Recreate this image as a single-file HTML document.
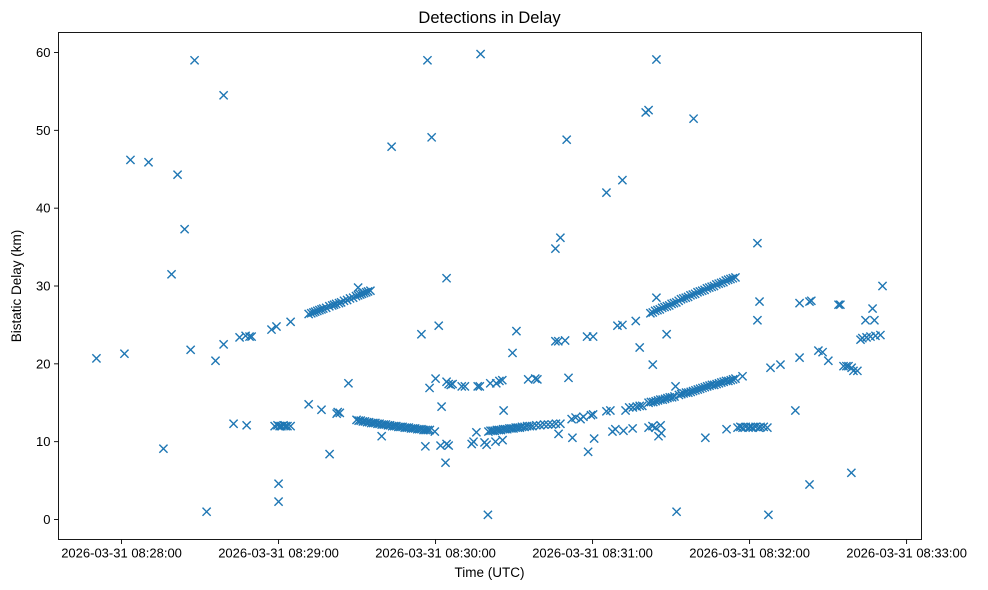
<!DOCTYPE html>
<html><head><meta charset="utf-8"><title>Detections in Delay</title>
<style>
html,body{margin:0;padding:0;background:#fff;}
svg{display:block;font-family:"Liberation Sans","DejaVu Sans",sans-serif;}
</style></head>
<body>
<svg id="chart" width="988" height="590" viewBox="0 0 988 590" xmlns="http://www.w3.org/2000/svg">
<rect x="0" y="0" width="988" height="590" fill="#fff"/>
<text x="489.5" y="23" text-anchor="middle" font-size="16.5" fill="#000">Detections in Delay</text>
<g id="axes"></g>
<g id="marks"></g>
<rect x="58.5" y="32.5" width="863" height="507" fill="none" stroke="#000" stroke-width="0.9"/>
<text x="489.5" y="577" text-anchor="middle" font-size="13.5" fill="#000">Time (UTC)</text>
<text transform="translate(21,286) rotate(-90)" text-anchor="middle" font-size="13.5" fill="#000">Bistatic Delay (km)</text>
</svg>
<script>
// time in seconds after 2026-03-31 08:28:00 UTC, delay in km
const xTickSeconds = [0, 60, 120, 180, 240, 300];
const xTickLabels = ["2026-03-31 08:28:00","2026-03-31 08:29:00","2026-03-31 08:30:00","2026-03-31 08:31:00","2026-03-31 08:32:00","2026-03-31 08:33:00"];
const yTickValues = [0, 10, 20, 30, 40, 50, 60];
const yTickLabels = ["0","10","20","30","40","50","60"];

const scatteredDetections = [
[-9.6,20.7],[1.1,21.3],[3.4,46.2],[10.3,45.9],[16.0,9.1],[19.1,31.5],[21.4,44.3],[24.1,37.3],[26.4,21.8],[27.9,59.0],
[32.5,1.0],[35.9,20.4],[39.0,54.5],[39.0,22.5],[42.8,12.3],[45.1,23.4],[47.8,12.1],[47.4,23.6],[48.9,23.5],[49.7,23.5],
[57.3,24.4],[59.2,24.8],[58.5,12.0],[59.6,12.1],[60.4,12.0],[61.1,12.0],[61.9,12.1],[62.7,12.0],[63.4,12.0],[64.6,12.0],
[60.0,4.6],[60.0,2.3],[64.6,25.4],[71.5,14.8],[76.4,14.1],[79.5,8.4],[82.2,13.6],[82.6,13.8],[83.4,13.7],[86.7,17.5],
[90.4,29.8],[99.4,10.7],[103.2,47.9],[114.6,23.8],[116.1,9.4],[116.9,59.0],[117.7,16.9],[118.5,49.1],[119.7,11.3],[120.0,18.1],
[121.2,24.9],[122.3,14.5],[121.9,9.5],[124.2,17.7],[125.0,17.4],[125.8,17.3],[126.5,17.4],[123.8,7.3],[124.2,31.0],[124.2,9.7],
[125.0,9.5],[130.0,17.1],[131.2,17.1],[136.1,17.1],[136.9,17.1],[133.8,9.7],[134.5,10.0],[137.2,59.8],[138.7,9.9],[139.5,9.6],
[140.0,0.6],[140.9,17.5],[143.2,17.5],[144.4,17.8],[145.5,17.9],[135.6,11.2],[146.0,14.0],[149.4,21.4],[150.9,24.2],[142.9,10.0],
[145.6,10.2],[155.4,18.0],[158.1,18.1],[158.9,18.0],[165.8,22.9],[166.9,22.9],[169.5,23.0],[165.8,34.8],[167.7,36.2],[170.1,48.8],
[170.8,18.2],[167.0,11.0],[172.3,10.5],[172.0,12.9],[173.5,13.1],[175.4,12.9],[176.5,13.2],[178.3,8.7],[177.9,23.5],[180.2,23.5],
[179.4,13.4],[180.2,13.5],[180.6,10.4],[185.3,42.0],[185.3,13.9],[186.8,14.0],[187.6,11.3],[188.7,11.6],[189.5,24.9],[191.4,25.0],
[191.4,43.6],[191.8,11.4],[192.6,14.0],[194.0,14.4],[195.4,14.4],[196.9,14.5],[198.0,14.6],[199.0,14.6],[195.3,11.7],[196.5,25.5],
[198.0,22.1],[200.3,52.3],[201.4,52.6],[201.4,11.8],[202.9,12.0],[204.0,11.8],[206.0,12.1],[203.0,19.9],[204.4,59.1],[204.4,28.5],
[205.2,10.7],[206.3,11.1],[208.3,23.8],[211.7,17.1],[212.1,1.0],[218.6,51.5],[223.1,10.5],[231.2,11.6],
[235.4,11.8],[236.5,11.9],[237.3,11.8],[238.5,11.9],[239.6,11.8],[240.4,11.9],[241.2,11.8],[242.3,11.9],[243.5,11.8],[244.2,11.9],[245.4,11.9],[246.8,11.8],
[237.3,18.4],[243.0,35.5],[243.0,25.6],[243.8,28.0],[247.2,0.6],[248.0,19.5],[251.8,19.9],[257.5,14.0],[259.1,20.8],[259.1,27.8],
[262.9,28.0],[263.6,28.1],[262.9,4.5],[266.3,21.7],[267.9,21.5],[270.1,20.4],[274.0,27.6],[274.7,27.6],[275.9,19.7],[277.0,19.7],
[277.8,19.7],[279.0,19.5],[279.7,19.1],[281.2,19.1],[278.9,6.0],[282.4,23.1],[283.1,23.3],[284.7,23.4],[286.2,23.5],[288.1,23.6],
[290.0,23.7],[284.3,25.6],[287.7,25.6],[287.0,27.1],[290.8,30.0]
];

const upperTrackA = [
[71.5,26.4],[72.5,26.5],[73.3,26.6],[74.0,26.7],[74.8,26.8],[75.6,26.9],[76.4,27.0],[77.1,27.1],[78.2,27.2],[79.4,27.4],
[80.5,27.5],[81.2,27.6],[82.0,27.7],[83.1,27.8],[83.9,27.9],[85.0,28.1],[86.2,28.2],[87.3,28.4],[88.5,28.5],[89.6,28.7],
[90.4,28.8],[91.2,28.9],[91.9,29.0],[92.7,29.1],[93.5,29.2],[94.2,29.3],[95.1,29.4]
];

const lowerTrackA = [
[89.8,12.8],[90.6,12.7],[91.4,12.7],[92.2,12.6],[93.0,12.6],[93.8,12.5],[94.6,12.5],[95.4,12.4],[96.2,12.4],[97.0,12.4],
[97.8,12.3],[98.6,12.3],[99.4,12.2],[100.2,12.2],[101.0,12.2],[101.8,12.1],[102.6,12.1],[103.4,12.0],[104.2,12.0],[105.0,12.0],
[105.8,11.9],[106.6,11.9],[107.4,11.9],[108.2,11.8],[109.0,11.8],[109.8,11.8],[110.6,11.7],[111.4,11.7],[112.2,11.7],[113.0,11.6],
[113.8,11.6],[114.6,11.6],[115.4,11.5],[116.2,11.5],[117.0,11.5],[117.8,11.5]
];

const lowerTrackB = [
[140.2,11.3],[141.0,11.4],[141.8,11.4],[142.6,11.4],[143.4,11.5],[144.2,11.5],[145.0,11.5],[145.8,11.6],[146.6,11.6],[147.4,11.6],
[148.2,11.7],[149.0,11.7],[149.8,11.7],[150.6,11.8],[151.4,11.8],[152.2,11.8],[153.0,11.9],[154.0,11.9],[155.0,12.0],[156.0,12.0],
[157.0,12.0],[158.5,12.1],[160.0,12.1],[161.5,12.2],[163.0,12.2],[164.5,12.2],[166.0,12.3],[167.7,12.3]
];

const middleTrackB = [
[201.4,15.0],[202.3,15.1],[203.2,15.1],[204.1,15.2],[205.0,15.3],[205.9,15.4],[206.8,15.4],[207.7,15.5],[208.6,15.6],[209.5,15.7],
[210.4,15.7],[211.3,15.8],[213.0,16.0],[213.9,16.1],[214.8,16.2],[215.7,16.3],[216.6,16.3],[217.5,16.4],[218.4,16.5],[219.3,16.6],
[220.2,16.7],[221.1,16.8],[222.0,16.9],[222.9,17.0],[223.8,17.1],[224.7,17.2],[225.6,17.3],[226.5,17.3],[227.4,17.4],[228.3,17.5],
[229.2,17.6],[230.1,17.7],[231.0,17.8],[231.9,17.8],[232.8,17.9],[233.7,18.0],[234.6,18.1]
];

const upperTrackB = [
[202.1,26.5],[203.0,26.6],[203.9,26.8],[204.8,26.9],[205.7,27.0],[206.6,27.2],[207.5,27.3],[208.4,27.4],[209.3,27.5],[210.2,27.7],
[211.1,27.8],[212.0,27.9],[212.9,28.1],[213.8,28.3],[214.7,28.4],[215.6,28.5],[216.5,28.6],[217.4,28.8],[218.3,28.9],[219.2,29.0],
[220.1,29.2],[221.0,29.3],[221.9,29.4],[222.8,29.5],[223.7,29.7],[224.6,29.8],[225.5,29.9],[226.4,30.0],[227.3,30.2],[228.2,30.3],
[229.1,30.4],[230.0,30.5],[230.9,30.7],[231.8,30.8],[232.7,30.9],[233.6,31.0],[234.6,31.1]
];

const X0 = 58.5, X1 = 921.5, Y0 = 539.5, Y1 = 32.5;
const tMin = -24.1, tMax = 305.7, kMin = -2.57, kMax = 62.57;
function xScale(t){ return X0 + (t - tMin) / (tMax - tMin) * (X1 - X0); }
function yScale(k){ return Y0 - (k - kMin) / (kMax - kMin) * (Y0 - Y1); }

const NS = "http://www.w3.org/2000/svg";
const axes = document.getElementById("axes");
xTickSeconds.forEach(function(t, i){
  const x = xScale(t);
  const tick = document.createElementNS(NS, "line");
  
  
  tick.setAttribute("x1", x); tick.setAttribute("x2", x);
  tick.setAttribute("y1", Y0); tick.setAttribute("y2", Y0 + 4.5);
  tick.setAttribute("stroke", "#000"); tick.setAttribute("stroke-width", "0.9");
  axes.appendChild(tick);
  const lab = document.createElementNS(NS, "text");
  
  
  lab.setAttribute("x", x); lab.setAttribute("y", Y0 + 18);
  lab.setAttribute("text-anchor", "middle"); lab.setAttribute("font-size", "13");
  lab.textContent = xTickLabels[i];
  axes.appendChild(lab);
});
yTickValues.forEach(function(v, i){
  const y = yScale(v);
  const tick = document.createElementNS(NS, "line");
  
  
  tick.setAttribute("x1", X0 - 4.5); tick.setAttribute("x2", X0);
  tick.setAttribute("y1", y); tick.setAttribute("y2", y);
  tick.setAttribute("stroke", "#000"); tick.setAttribute("stroke-width", "0.9");
  axes.appendChild(tick);
  const lab = document.createElementNS(NS, "text");
  
  
  lab.setAttribute("x", X0 - 8); lab.setAttribute("y", y + 4.5);
  lab.setAttribute("text-anchor", "end"); lab.setAttribute("font-size", "13");
  lab.textContent = yTickLabels[i];
  axes.appendChild(lab);
});

const marks = document.getElementById("marks");
const allGroups = [scatteredDetections, upperTrackA, lowerTrackA, lowerTrackB, middleTrackB, upperTrackB];
const r = 4.1;
allGroups.forEach(function(group){
  group.forEach(function(p){
    const cx = xScale(p[0]), cy = yScale(p[1]);
    const m = document.createElementNS(NS, "path");
    
    
    m.setAttribute("d", "M" + (cx - r) + "," + (cy - r) + "L" + (cx + r) + "," + (cy + r) + "M" + (cx - r) + "," + (cy + r) + "L" + (cx + r) + "," + (cy - r));
    m.setAttribute("stroke", "#1f77b4");
    m.setAttribute("stroke-width", "1.4");
    m.setAttribute("fill", "none");
    marks.appendChild(m);
  });
});
</script>
</body></html>
